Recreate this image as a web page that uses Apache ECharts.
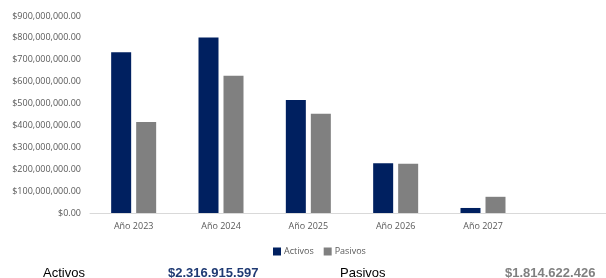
<!DOCTYPE html>
<html>
<head>
<meta charset="utf-8">
<script src="https://cdn.jsdelivr.net/npm/echarts@6/dist/echarts.min.js"></script>
<style>
    html, body { margin: 0; padding: 0; background: #fff; overflow: hidden; }
    #chart { width: 614px; height: 278px; }
</style>
</head>
<body>
<div id="chart"></div>
<script>
    // datos
    const years = ['Año 2023', 'Año 2024', 'Año 2025', 'Año 2026', 'Año 2027', ''];
    const activos = [734000000, 802000000, 516000000, 227000000, 23000000, null];
    const pasivos = [416000000, 627000000, 453000000, 225000000, 74000000, null];
    const totalActivos = '$2.316.915.597';
    const totalPasivos = '$1.814.622.426';

    const money = v => '$' + v.toLocaleString('en-US', {minimumFractionDigits: 2, maximumFractionDigits: 2});

    let myChart = echarts.init(document.getElementById('chart'));
    let option = {
        animation: false,
        grid: {left: 90, right: 0, top: 16, bottom: 65},
        legend: {
            data: ['Activos', 'Pasivos'],
            left: 268,
            top: 242,
            itemWidth: 8,
            itemHeight: 8,
            itemGap: 10,
            icon: 'rect',
            textStyle: {color: '#595959', fontSize: 9, fontFamily: 'Open Sans', padding: [0, 0, 0, -2]}
        },
        xAxis: {
            type: 'category',
            data: years,
            axisTick: {show: false},
            axisLine: {lineStyle: {color: '#d9d9d9'}},
            axisLabel: {color: '#595959', fontSize: 9, fontFamily: 'Open Sans', margin: 9}
        },
        yAxis: {
            type: 'value',
            min: 0,
            max: 900000000,
            interval: 100000000,
            splitLine: {show: false},
            axisLine: {show: false},
            axisTick: {show: false},
            axisLabel: {color: '#595959', fontSize: 9, fontFamily: 'Open Sans', margin: 9, formatter: money}
        },
        series: [
            {
                name: 'Activos',
                type: 'bar',
                data: activos,
                barWidth: 20,
                barGap: '25%',
                itemStyle: {color: '#002060'}
            },
            {
                name: 'Pasivos',
                type: 'bar',
                data: pasivos,
                barWidth: 20,
                itemStyle: {color: '#808080'}
            }
        ],
        graphic: [
            {type: 'text', left: 43, top: 267, style: {text: 'Activos', fill: '#000', font: '13px "Liberation Sans"'}},
            {type: 'text', left: 168, top: 267, style: {text: totalActivos, fill: '#1f3a73', font: 'bold 13px "Liberation Sans"'}},
            {type: 'text', left: 340, top: 267, style: {text: 'Pasivos', fill: '#000', font: '13px "Liberation Sans"'}},
            {type: 'text', left: 505, top: 267, style: {text: totalPasivos, fill: '#808080', font: 'bold 13px "Liberation Sans"'}}
        ]
    };
    myChart.setOption(option);
</script>
</body>
</html>
